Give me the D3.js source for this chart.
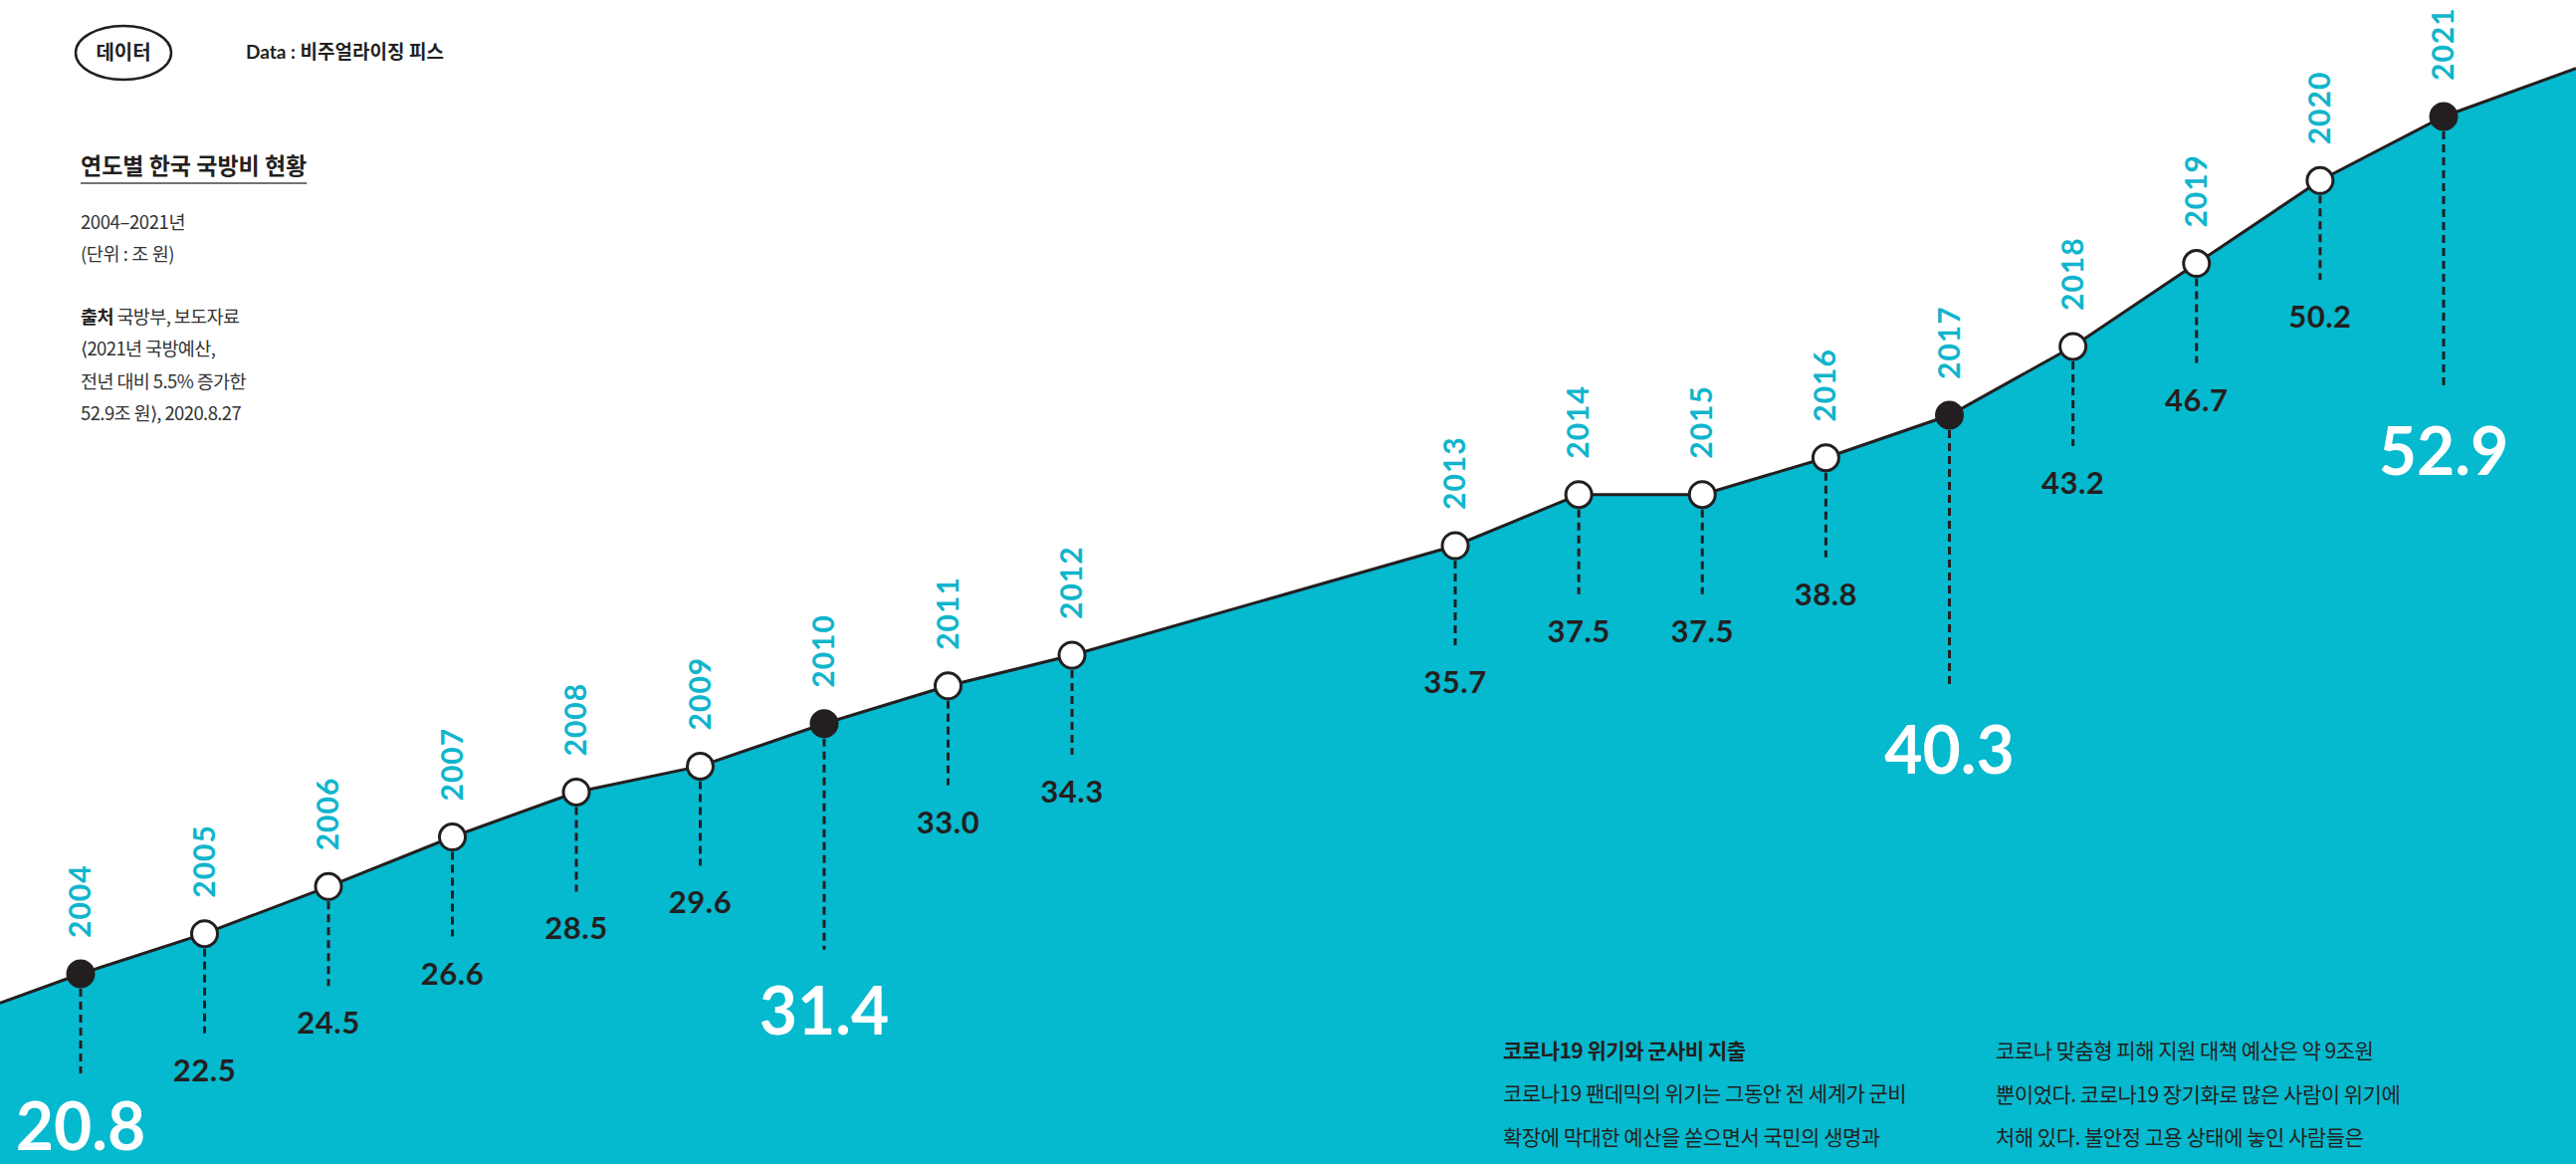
<!DOCTYPE html>
<html>
<head>
<meta charset="utf-8">
<script src="https://cdn.jsdelivr.net/npm/d3@7"></script>
<style>
  body { margin: 0; background: #fff; }
  svg { display: block; }
</style>
</head>
<body>
<div id="chart-area"></div>
<script>
// Data
var years = [2004, 2005, 2006, 2007, 2008, 2009, 2010, 2011, 2012,
             2013, 2014, 2015, 2016, 2017, 2018, 2019, 2020, 2021];
var budget = [20.8, 22.5, 24.5, 26.6, 28.5, 29.6, 31.4, 33.0, 34.3,
              35.7, 37.5, 37.5, 38.8, 40.3, 43.2, 46.7, 50.2, 52.9];
var highlightYears = [2004, 2010, 2017, 2021];

var headerBadge = "데이터";
var headerSource = "Data : 비주얼라이징 피스";
var chartTitle = "연도별 한국 국방비 현황";
var metaLines = ["2004–2021년", "(단위 : 조 원)"];
var sourceLines = [["출처", " 국방부, 보도자료"], ["", "⟨2021년 국방예산,"],
                   ["", "전년 대비 5.5% 증가한"], ["", "52.9조 원⟩, 2020.8.27"]];
var articleTitle = "코로나19 위기와 군사비 지출";
var articleCol1 = ["코로나19 팬데믹의 위기는 그동안 전 세계가 군비",
                   "확장에 막대한 예산을 쏟으면서 국민의 생명과"];
var articleCol2 = ["코로나 맞춤형 피해 지원 대책 예산은 약 9조원",
                   "뿐이었다. 코로나19 장기화로 많은 사람이 위기에",
                   "처해 있다. 불안정 고용 상태에 놓인 사람들은"];

var data = years.map((d, i) => { return {year: d, value: budget[i]}; });

var width = 2588;
var height = 1169;
var cyan = "#05b9cf";
var ink = "#231f20";
var numFont = "Lato, 'Noto Sans', sans-serif";
var krFont = "'Noto Sans CJK KR', 'Noto Sans', sans-serif";

var svg = d3.select("#chart-area")
    .append("svg")
    .attr("width", width)
    .attr("height", height);

// Scales (broken axis: gap between 2012 and 2013)
var last = budget.length - 1;
var x = d3.scaleLinear()
    .domain([years[0], years[8], years[9], years[last]])
    .range([81, 1077, 1462, 2455]);

var y = d3.scaleLinear()
    .domain([budget[0], budget[8], budget[9], budget[13], budget[last]])
    .range([978, 658, 548, 417, 117]);

// Extend the line to both edges along the overall trend
var x0 = x(years[0]), y0 = y(budget[0]);
var x1 = x(years[last]), y1 = y(budget[last]);
var slope = (y1 - y0) / (x1 - x0);
var pts = [[0, y0 - x0 * slope]]
    .concat(data.map((d) => [x(d.year), y(d.value)]))
    .concat([[width, y1 + (width - x1) * slope]]);

// Area + line
svg.append("path")
    .datum(pts)
    .attr("fill", cyan)
    .attr("d", d3.area().x(d => d[0]).y0(height).y1(d => d[1]));

svg.append("path")
    .datum(pts)
    .attr("fill", "none")
    .attr("stroke", ink)
    .attr("stroke-width", 3)
    .attr("d", d3.line().x(d => d[0]).y(d => d[1]));

// drop lengths for the big (highlighted) labels
var bigDrop = {2004: 100, 2010: 227, 2017: 275, 2021: 275};
var isBig = (d) => highlightYears.indexOf(d.year) >= 0;
var drop = (d) => isBig(d) ? bigDrop[d.year] : 100;

// Dashed drop lines
svg.append("g").selectAll("line")
    .data(data)
    .enter()
    .append("line")
    .attr("x1", d => x(d.year))
    .attr("x2", d => x(d.year))
    .attr("y1", d => y(d.value) + 15)
    .attr("y2", d => y(d.value) + drop(d))
    .attr("stroke", ink)
    .attr("stroke-width", 3)
    .attr("stroke-dasharray", "8,5");

// Points
svg.append("g").selectAll("circle")
    .data(data)
    .enter()
    .append("circle")
    .attr("cx", d => x(d.year))
    .attr("cy", d => y(d.value))
    .attr("r", 13)
    .attr("fill", d => isBig(d) ? ink : "#fff")
    .attr("stroke", ink)
    .attr("stroke-width", 3);

// Value labels
svg.append("g").selectAll("text")
    .data(data)
    .enter()
    .append("text")
    .attr("x", d => x(d.year))
    .attr("y", d => Math.min(height - 14, y(d.value) + drop(d) + (isBig(d) ? 85 : 48)))
    .attr("text-anchor", "middle")
    .attr("font-family", numFont)
    .attr("font-weight", 700)
    .attr("font-size", d => isBig(d) ? "66px" : "31px")
    .attr("letter-spacing", d => isBig(d) ? 0 : 0.5)
    .attr("fill", d => isBig(d) ? "#fff" : ink)
    .text(d => d3.format(".1f")(d.value));

// Year labels (rotated)
svg.append("g").selectAll("text")
    .data(data)
    .enter()
    .append("text")
    .attr("transform", d => "translate(" + (x(d.year) + 10) + "," + (y(d.value) - 36) + ") rotate(-90)")
    .attr("font-family", numFont)
    .attr("font-weight", 700)
    .attr("font-size", "30px")
    .attr("letter-spacing", 1)
    .attr("fill", "#10b5cc")
    .text(d => d.year);

// Header
svg.append("ellipse")
    .attr("cx", 124).attr("cy", 53)
    .attr("rx", 48).attr("ry", 27)
    .attr("fill", "none")
    .attr("stroke", ink)
    .attr("stroke-width", 2.5);
svg.append("text")
    .attr("x", 124).attr("y", 60)
    .attr("text-anchor", "middle")
    .attr("font-family", krFont)
    .attr("font-weight", 700)
    .attr("font-size", "20px")
    .attr("fill", ink)
    .text(headerBadge);
svg.append("text")
    .attr("x", 247).attr("y", 59)
    .attr("font-family", "Lato, 'Noto Sans CJK KR', sans-serif")
    .attr("font-weight", 700)
    .attr("font-size", "19px")
    .attr("fill", ink)
    .text(headerSource);

// Title block
var title = svg.append("text")
    .attr("x", 81).attr("y", 175)
    .attr("font-family", krFont)
    .attr("font-weight", 700)
    .attr("font-size", "23px")
    .attr("fill", ink)
    .text(chartTitle);
var tw = title.node().getComputedTextLength();
svg.append("line")
    .attr("x1", 81).attr("x2", 81 + tw)
    .attr("y1", 184).attr("y2", 184)
    .attr("stroke", "#444")
    .attr("stroke-width", 1.5);

svg.append("g").selectAll("text")
    .data(metaLines)
    .enter()
    .append("text")
    .attr("x", 81)
    .attr("y", (d, i) => 230 + i * 32)
    .attr("font-family", krFont)
    .attr("font-size", "18.5px")
    .attr("letter-spacing", -0.4)
    .attr("fill", "#333")
    .text(d => d);

var src = svg.append("g").selectAll("text")
    .data(sourceLines)
    .enter()
    .append("text")
    .attr("x", 81)
    .attr("y", (d, i) => 325 + i * 32.4)
    .attr("font-family", krFont)
    .attr("font-size", "18.5px")
    .attr("letter-spacing", -0.6)
    .attr("fill", "#333");
src.append("tspan").attr("font-weight", 700).attr("fill", ink).text(d => d[0]);
src.append("tspan").text(d => d[1]);

// Article text at the bottom
var article = svg.append("g")
    .attr("font-family", krFont)
    .attr("font-size", "21px")
    .attr("letter-spacing", -0.5)
    .attr("fill", ink);
article.append("text")
    .attr("x", 1510).attr("y", 1063)
    .attr("font-weight", 700)
    .text(articleTitle);
article.selectAll(".c1")
    .data(articleCol1)
    .enter()
    .append("text")
    .attr("class", "c1")
    .attr("x", 1510)
    .attr("y", (d, i) => 1106 + i * 44)
    .text(d => d);
article.selectAll(".c2")
    .data(articleCol2)
    .enter()
    .append("text")
    .attr("class", "c2")
    .attr("x", 2005)
    .attr("y", (d, i) => 1063 + i * 43.5)
    .text(d => d);
</script>
</body>
</html>
